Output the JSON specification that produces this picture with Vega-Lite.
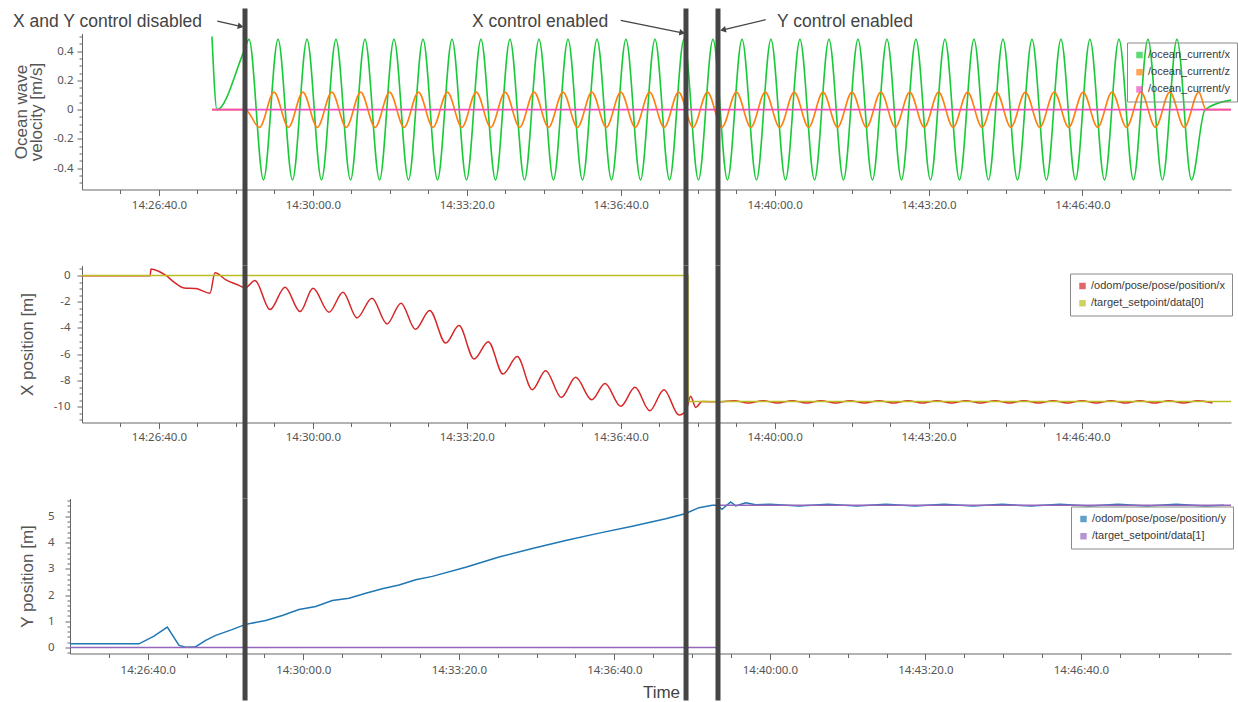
{
  "$schema": "https://vega.github.io/schema/vega-lite/v6.json",
  "background": "white",
  "padding": {"left": 12, "top": 5.5, "right": 5, "bottom": 5},
  "autosize": {"type": "pad"},
  "bounds": "flush",
  "spacing": 76,
  "resolve": {"scale": {"color": "independent"}, "legend": {"color": "independent"}},
  "config": {
    "view": {"stroke": null},
    "axis": {"labelFont": "Noto Sans", "labelFontSize": 11.5, "labelColor": "#555", "titleFont": "Liberation Sans", "titleFontSize": 17, "titleFontWeight": "normal", "titleColor": "#555", "domainColor": "#666", "tickColor": "#666", "grid": false, "labelOverlap": false, "labelBound": false, "labelFlush": false},
    "legend": {"orient": "none", "title": null, "strokeColor": "#8a8a8a", "padding": 7, "rowPadding": 5.2, "labelOffset": 3, "symbolSize": 42, "symbolType": "square", "symbolStrokeWidth": 0, "labelFont": "Liberation Sans", "labelFontSize": 11, "labelColor": "#3a3a3a"}
  },
  "datasets": {
    "ox": [
      {"t":52068.9,"v":0.5},{"t":52075.4,"v":0},{"t":52110.5,"v":0.4},
      {"t":52117.0,"v":0.48},{"t":52135.8,"v":-0.48},{"t":52154.7,"v":0.48},{"t":52173.5,"v":-0.48},
      {"t":52192.4,"v":0.48},{"t":52211.2,"v":-0.48},{"t":52230.0,"v":0.48},{"t":52248.9,"v":-0.48},
      {"t":52267.7,"v":0.48},{"t":52286.6,"v":-0.48},{"t":52305.4,"v":0.48},{"t":52324.2,"v":-0.48},
      {"t":52343.1,"v":0.48},{"t":52361.9,"v":-0.48},{"t":52380.8,"v":0.48},{"t":52399.6,"v":-0.48},
      {"t":52418.4,"v":0.48},{"t":52437.3,"v":-0.48},{"t":52456.1,"v":0.48},{"t":52475.0,"v":-0.48},
      {"t":52493.8,"v":0.48},{"t":52512.6,"v":-0.48},{"t":52531.5,"v":0.48},{"t":52550.3,"v":-0.48},
      {"t":52569.2,"v":0.48},{"t":52588.0,"v":-0.48},{"t":52606.8,"v":0.48},{"t":52625.7,"v":-0.48},
      {"t":52644.5,"v":0.48},{"t":52663.4,"v":-0.48},{"t":52682.2,"v":0.48},{"t":52701.0,"v":-0.48},
      {"t":52719.9,"v":0.48},{"t":52738.7,"v":-0.48},{"t":52757.6,"v":0.48},{"t":52776.4,"v":-0.48},
      {"t":52795.2,"v":0.48},{"t":52814.1,"v":-0.48},{"t":52832.9,"v":0.48},{"t":52851.8,"v":-0.48},
      {"t":52870.6,"v":0.48},{"t":52889.4,"v":-0.48},{"t":52908.3,"v":0.48},{"t":52927.1,"v":-0.48},
      {"t":52946.0,"v":0.48},{"t":52964.8,"v":-0.48},{"t":52983.6,"v":0.48},{"t":53002.5,"v":-0.48},
      {"t":53021.3,"v":0.48},{"t":53040.2,"v":-0.48},{"t":53059.0,"v":0.48},{"t":53077.8,"v":-0.48},
      {"t":53096.7,"v":0.48},{"t":53115.5,"v":-0.48},{"t":53134.4,"v":0.48},{"t":53153.2,"v":-0.48},
      {"t":53172.0,"v":0.48},{"t":53190.9,"v":-0.48},{"t":53209.7,"v":0.48},{"t":53228.6,"v":-0.48},
      {"t":53247.4,"v":0.48},{"t":53266.2,"v":-0.48},{"t":53285.1,"v":0.48},{"t":53303.9,"v":-0.48},
      {"t":53322.8,"v":0.48},{"t":53341.6,"v":-0.48},{"t":53359.2,"v":0},{"t":53393,"v":0.065}
    ],
    "oz": [
      {"t":52068.9,"v":0},{"t":52111.8,"v":0},
      {"t":52130.7,"v":-0.12},{"t":52149.5,"v":0.12},{"t":52168.3,"v":-0.12},{"t":52187.0,"v":0.12},
      {"t":52205.8,"v":-0.12},{"t":52224.6,"v":0.12},{"t":52243.4,"v":-0.12},{"t":52262.1,"v":0.12},
      {"t":52280.9,"v":-0.12},{"t":52299.7,"v":0.12},{"t":52318.5,"v":-0.12},{"t":52337.2,"v":0.12},
      {"t":52356.0,"v":-0.12},{"t":52374.8,"v":0.12},{"t":52393.6,"v":-0.12},{"t":52412.3,"v":0.12},
      {"t":52431.1,"v":-0.12},{"t":52449.9,"v":0.12},{"t":52468.7,"v":-0.12},{"t":52487.4,"v":0.12},
      {"t":52506.2,"v":-0.12},{"t":52525.0,"v":0.12},{"t":52543.8,"v":-0.12},{"t":52562.5,"v":0.12},
      {"t":52581.3,"v":-0.12},{"t":52600.1,"v":0.12},{"t":52618.9,"v":-0.12},{"t":52637.6,"v":0.12},
      {"t":52656.4,"v":-0.12},{"t":52675.2,"v":0.12},{"t":52694.0,"v":-0.12},{"t":52712.7,"v":0.12},
      {"t":52731.5,"v":-0.12},{"t":52750.3,"v":0.12},{"t":52769.1,"v":-0.12},{"t":52787.8,"v":0.12},
      {"t":52806.6,"v":-0.12},{"t":52825.4,"v":0.12},{"t":52844.2,"v":-0.12},{"t":52862.9,"v":0.12},
      {"t":52881.7,"v":-0.12},{"t":52900.5,"v":0.12},{"t":52919.3,"v":-0.12},{"t":52938.0,"v":0.12},
      {"t":52956.8,"v":-0.12},{"t":52975.6,"v":0.12},{"t":52994.4,"v":-0.12},{"t":53013.1,"v":0.12},
      {"t":53031.9,"v":-0.12},{"t":53050.7,"v":0.12},{"t":53069.5,"v":-0.12},{"t":53088.2,"v":0.12},
      {"t":53107.0,"v":-0.12},{"t":53125.8,"v":0.12},{"t":53144.6,"v":-0.12},{"t":53163.3,"v":0.12},
      {"t":53182.1,"v":-0.12},{"t":53200.9,"v":0.12},{"t":53219.7,"v":-0.12},{"t":53238.4,"v":0.12},
      {"t":53257.2,"v":-0.12},{"t":53276.0,"v":0.12},{"t":53294.8,"v":-0.12},{"t":53313.5,"v":0.12},
      {"t":53332.3,"v":-0.12},{"t":53351.1,"v":0.12},{"t":53360.5,"v":0},{"t":53393,"v":0}
    ],
    "oy": [{"t":52068.9,"v":0},{"t":53393,"v":0}],
    "rx": [
      {"t":51900,"v":-0.03},{"t":51988.4,"v":-0.03},{"t":51989.7,"v":0.5},{"t":51993.6,"v":0.45},
      {"t":52009.1,"v":0.0},{"t":52019.5,"v":-0.5},{"t":52032.5,"v":-0.95},{"t":52048.1,"v":-1.0},
      {"t":52066.3,"v":-1.35},{"t":52072.8,"v":0.2},{"t":52087.1,"v":-0.33},{"t":52104.0,"v":-0.75},
      {"t":52111.8,"v":-0.95},{"t":52124.8,"v":-0.38},{"t":52144.3,"v":-2.6},{"t":52163.8,"v":-0.89},
      {"t":52183.3,"v":-2.75},{"t":52200.2,"v":-0.97},{"t":52221.0,"v":-2.8},{"t":52239.1,"v":-1.27},
      {"t":52257.3,"v":-3.23},{"t":52276.8,"v":-1.73},{"t":52296.3,"v":-3.69},{"t":52314.5,"v":-2.11},
      {"t":52333.3,"v":-4.1},{"t":52351.8,"v":-2.67},{"t":52372.6,"v":-5.14},{"t":52389.9,"v":-3.82},
      {"t":52409.4,"v":-6.36},{"t":52428.0,"v":-5.04},{"t":52447.0,"v":-7.5},{"t":52465.6,"v":-6.18},
      {"t":52485.1,"v":-8.7},{"t":52502.5,"v":-7.25},{"t":52522.8,"v":-9.29},{"t":52541.5,"v":-7.76},
      {"t":52562.3,"v":-9.47},{"t":52579.6,"v":-8.22},{"t":52600.0,"v":-9.97},{"t":52618.6,"v":-8.52},
      {"t":52637.7,"v":-10.3},{"t":52656.2,"v":-8.7},{"t":52675.7,"v":-10.63},{"t":52684.8,"v":-10.3},
      {"t":52690.9,"v":-9.2},{"t":52697.4,"v":-10.05},{"t":52705.6,"v":-9.6},{"t":52727.7,"v":-9.62},
      {"t":52747.2,"v":-9.54},{"t":52766.0,"v":-9.72},{"t":52784.9,"v":-9.54},{"t":52803.7,"v":-9.72},
      {"t":52822.6,"v":-9.54},{"t":52841.4,"v":-9.72},{"t":52860.2,"v":-9.54},{"t":52879.1,"v":-9.72},
      {"t":52897.9,"v":-9.54},{"t":52916.8,"v":-9.72},{"t":52935.6,"v":-9.54},{"t":52954.4,"v":-9.72},
      {"t":52973.3,"v":-9.54},{"t":52992.1,"v":-9.72},{"t":53011.0,"v":-9.54},{"t":53029.8,"v":-9.72},
      {"t":53048.6,"v":-9.54},{"t":53067.5,"v":-9.72},{"t":53086.3,"v":-9.54},{"t":53105.2,"v":-9.72},
      {"t":53124.0,"v":-9.54},{"t":53142.8,"v":-9.72},{"t":53161.7,"v":-9.54},{"t":53180.5,"v":-9.72},
      {"t":53199.4,"v":-9.54},{"t":53218.2,"v":-9.72},{"t":53237.0,"v":-9.54},{"t":53255.9,"v":-9.72},
      {"t":53274.7,"v":-9.54},{"t":53293.6,"v":-9.72},{"t":53312.4,"v":-9.54},{"t":53331.2,"v":-9.72},
      {"t":53350.1,"v":-9.54},{"t":53368.9,"v":-9.72}
    ],
    "sx": [{"t":51900,"v":0},{"t":52687.4,"v":0},{"t":52687.5,"v":-9.6},{"t":53393,"v":-9.6}],
    "by": [
      {"t":51900,"v":0.14},{"t":51988.7,"v":0.14},{"t":52008.0,"v":0.43},{"t":52025.1,"v":0.78},
      {"t":52040.2,"v":0.08},{"t":52048.8,"v":0.01},{"t":52061.7,"v":0.03},{"t":52074.5,"v":0.27},
      {"t":52087.4,"v":0.46},{"t":52108.3,"v":0.68},{"t":52125.9,"v":0.88},{"t":52151.7,"v":1.03},
      {"t":52173.0,"v":1.22},{"t":52194.5,"v":1.45},{"t":52216.0,"v":1.56},{"t":52237.3,"v":1.79},
      {"t":52258.8,"v":1.88},{"t":52280.3,"v":2.07},{"t":52301.6,"v":2.24},{"t":52323.1,"v":2.38},
      {"t":52344.6,"v":2.58},{"t":52365.9,"v":2.71},{"t":52408.9,"v":3.06},{"t":52451.7,"v":3.45},
      {"t":52494.5,"v":3.77},{"t":52537.4,"v":4.08},{"t":52580.3,"v":4.36},{"t":52623.1,"v":4.62},
      {"t":52666.1,"v":4.91},{"t":52690.9,"v":5.1},{"t":52708.9,"v":5.33},{"t":52726.0,"v":5.42},
      {"t":52732.0,"v":5.42},{"t":52738.5,"v":5.27},{"t":52749.6,"v":5.55},{"t":52756.1,"v":5.4},
      {"t":52768.9,"v":5.52},{"t":52781.8,"v":5.44},{"t":52800.2,"v":5.46},{"t":52837.5,"v":5.39},
      {"t":52874.8,"v":5.46},{"t":52912.1,"v":5.39},{"t":52949.4,"v":5.46},{"t":52986.7,"v":5.39},
      {"t":53024.0,"v":5.46},{"t":53061.3,"v":5.39},{"t":53098.6,"v":5.46},{"t":53135.9,"v":5.39},
      {"t":53173.2,"v":5.46},{"t":53210.5,"v":5.39},{"t":53247.8,"v":5.46},{"t":53285.1,"v":5.39},
      {"t":53322.4,"v":5.46},{"t":53359.7,"v":5.39},{"t":53384,"v":5.42}
    ],
    "py": [{"t":51900,"v":0},{"t":52733.3,"v":0},{"t":52733.4,"v":5.42},{"t":53393,"v":5.42}]
  },
  "vconcat": [
    {
      "width": 1161, "height": 156,
      "encoding": {
        "x": {"field": "t", "type": "quantitative",
          "scale": {"domain": [51900, 53393], "range": [12, 1161], "nice": false, "zero": false},
          "axis": {"title": null, "values": [51950,52000,52050,52100,52150,52200,52250,52300,52350,52400,52450,52500,52550,52600,52650,52700,52750,52800,52850,52900,52950,53000,53050,53100,53150,53200,53250,53300,53350],
            "labelExpr": "datum.value % 200 == 0 ? utcFormat(datum.value * 1000, '%H:%M:%S') + '.0' : ''",
            "tickSize": {"condition": {"test": "datum.value % 200 == 0", "value": 6}, "value": 4}, "labelPadding": 4}},
        "y": {"field": "v", "type": "quantitative",
          "scale": {"domain": [-0.545, 0.52], "nice": false, "zero": false},
          "axis": {"title": ["Ocean wave", "velocity [m/s]"], "offset": -12,
            "values": [-0.5,-0.45,-0.4,-0.35,-0.3,-0.25,-0.2,-0.15,-0.1,-0.05,0,0.05,0.1,0.15,0.2,0.25,0.3,0.35,0.4,0.45,0.5],
            "labelExpr": "abs(datum.value*5 - round(datum.value*5)) < 0.001 ? '' + datum.value : ''",
            "tickSize": {"condition": {"test": "abs(datum.value*5 - round(datum.value*5)) < 0.001", "value": 5}, "value": 3},
            "labelPadding": 4, "titleX": -56, "titleBaseline": "alphabetic", "titleLineHeight": 15}}
      },
      "layer": [
        {"data": {"name": "ox"}, "mark": {"type": "line", "interpolate": "monotone", "strokeWidth": 1.6, "color": "#1ac938"}},
        {"data": {"name": "oz"}, "mark": {"type": "line", "interpolate": "monotone", "strokeWidth": 1.6, "color": "#ff7f0e"}},
        {"data": {"name": "oy"}, "mark": {"type": "line", "strokeWidth": 1.6, "color": "#f14cc1"}},
        {"data": {"values": []}, "mark": {"type": "square", "size": 42},
          "encoding": {"color": {"field": "s", "type": "nominal",
            "scale": {"domain": ["/ocean_current/x", "/ocean_current/z", "/ocean_current/y"], "range": ["#1ac938", "#ff7f0e", "#f14cc1"]},
            "legend": {"legendX": 1057, "legendY": 9}}}},
        {"data": {"values": [{"t": 52111.8, "from": 0.691, "to": -1.064}, {"t": 52684.8, "from": 0.691, "to": -1.064}, {"t": 52726.4, "from": 0.691, "to": -1.064}]},
          "mark": {"type": "rule", "color": "#454545", "strokeWidth": 5},
          "encoding": {"y": {"field": "from"}, "y2": {"field": "to"}}},
        {"data": {"values": [
            {"t": 52075.8, "v": 0.604, "t2": 52106.2, "v2": 0.568},
            {"t": 52600.0, "v": 0.609, "t2": 52680.0, "v2": 0.525},
            {"t": 52788.4, "v": 0.614, "t2": 52732.9, "v2": 0.545}]},
          "mark": {"type": "rule", "color": "#444", "strokeWidth": 1.3},
          "encoding": {"x2": {"field": "t2"}, "y2": {"field": "v2"}}},
        {"data": {"values": [{"t": 52106.2, "v": 0.568}]},
          "mark": {"type": "point", "shape": "triangle-right", "filled": true, "size": 45, "angle": 12.8, "color": "#444", "opacity": 1}},
        {"data": {"values": [{"t": 52680.0, "v": 0.525}]},
          "mark": {"type": "point", "shape": "triangle-right", "filled": true, "size": 45, "angle": 11.3, "color": "#444", "opacity": 1}},
        {"data": {"values": [{"t": 52732.9, "v": 0.545}]},
          "mark": {"type": "point", "shape": "triangle-right", "filled": true, "size": 45, "angle": 166.8, "color": "#444", "opacity": 1}},
        {"data": {"values": [
            {"t": 51810.3, "v": 0.561, "label": "X and Y control disabled"},
            {"t": 52406.8, "v": 0.561, "label": "X control enabled"},
            {"t": 52803.1, "v": 0.561, "label": "Y control enabled"}]},
          "mark": {"type": "text", "align": "left", "baseline": "alphabetic", "font": "Liberation Sans", "fontSize": 17.5, "color": "#444"},
          "encoding": {"text": {"field": "label"}}}
      ]
    },
    {
      "width": 1161, "height": 157,
      "encoding": {
        "x": {"field": "t", "type": "quantitative",
          "scale": {"domain": [51900, 53393], "range": [12, 1161], "nice": false, "zero": false},
          "axis": {"title": null, "values": [51950,52000,52050,52100,52150,52200,52250,52300,52350,52400,52450,52500,52550,52600,52650,52700,52750,52800,52850,52900,52950,53000,53050,53100,53150,53200,53250,53300,53350],
            "labelExpr": "datum.value % 200 == 0 ? utcFormat(datum.value * 1000, '%H:%M:%S') + '.0' : ''",
            "tickSize": {"condition": {"test": "datum.value % 200 == 0", "value": 6}, "value": 4}, "labelPadding": 3}},
        "y": {"field": "v", "type": "quantitative",
          "scale": {"domain": [-11.2, 0.76], "nice": false, "zero": false},
          "axis": {"title": "X position [m]", "offset": -12,
            "values": [-11,-10.5,-10,-9.5,-9,-8.5,-8,-7.5,-7,-6.5,-6,-5.5,-5,-4.5,-4,-3.5,-3,-2.5,-2,-1.5,-1,-0.5,0,0.5],
            "labelExpr": "datum.value % 2 == 0 ? '' + datum.value : ''",
            "tickSize": {"condition": {"test": "datum.value % 2 == 0", "value": 5}, "value": 3},
            "labelPadding": 7, "titleX": -50, "titleBaseline": "alphabetic"}}
      },
      "layer": [
        {"data": {"name": "rx"}, "mark": {"type": "line", "interpolate": "monotone", "strokeWidth": 1.5, "color": "#d62728"}},
        {"data": {"name": "sx"}, "mark": {"type": "line", "strokeWidth": 1.5, "color": "#bcbd22"}},
        {"data": {"values": []}, "mark": {"type": "square", "size": 42},
          "encoding": {"color": {"field": "s", "type": "nominal",
            "scale": {"domain": ["/odom/pose/pose/position/x", "/target_setpoint/data[0]"], "range": ["#d62728", "#bcbd22"]},
            "legend": {"legendX": 1000, "legendY": 8}}}},
        {"data": {"values": [{"t": 52111.8, "from": 0.76, "to": -16.99}, {"t": 52684.8, "from": 0.76, "to": -16.99}, {"t": 52726.4, "from": 0.76, "to": -16.99}]},
          "mark": {"type": "rule", "color": "#454545", "strokeWidth": 5},
          "encoding": {"y": {"field": "from"}, "y2": {"field": "to"}}}
      ]
    },
    {
      "width": 1161, "height": 155,
      "encoding": {
        "x": {"field": "t", "type": "quantitative",
          "scale": {"domain": [51900, 53393], "nice": false, "zero": false},
          "axis": {"title": "Time", "titleX": 591, "titleY": 44, "titleBaseline": "alphabetic", "titleAlign": "center", "titleColor": "#444",
            "values": [51950,52000,52050,52100,52150,52200,52250,52300,52350,52400,52450,52500,52550,52600,52650,52700,52750,52800,52850,52900,52950,53000,53050,53100,53150,53200,53250,53300,53350],
            "labelExpr": "datum.value % 200 == 0 ? utcFormat(datum.value * 1000, '%H:%M:%S') + '.0' : ''",
            "tickSize": {"condition": {"test": "datum.value % 200 == 0", "value": 6}, "value": 4}, "labelPadding": 5}},
        "y": {"field": "v", "type": "quantitative",
          "scale": {"domain": [-0.23, 5.68], "nice": false, "zero": false},
          "axis": {"title": "Y position [m]",
            "values": [-0.2,0,0.2,0.4,0.6,0.8,1,1.2,1.4,1.6,1.8,2,2.2,2.4,2.6,2.8,3,3.2,3.4,3.6,3.8,4,4.2,4.4,4.6,4.8,5,5.2,5.4,5.6],
            "labelExpr": "abs(datum.value - round(datum.value)) < 0.001 ? '' + datum.value : ''",
            "tickSize": {"condition": {"test": "abs(datum.value - round(datum.value)) < 0.001", "value": 5}, "value": 3},
            "labelPadding": 11, "titleX": -37.6, "titleBaseline": "alphabetic"}}
      },
      "layer": [
        {"data": {"name": "by"}, "mark": {"type": "line", "strokeWidth": 1.5, "color": "#1f77b4"}},
        {"data": {"name": "py"}, "mark": {"type": "line", "strokeWidth": 1.5, "color": "#9467bd"}},
        {"data": {"values": []}, "mark": {"type": "square", "size": 42},
          "encoding": {"color": {"field": "s", "type": "nominal",
            "scale": {"domain": ["/odom/pose/pose/position/y", "/target_setpoint/data[1]"], "range": ["#1f77b4", "#9467bd"]},
            "legend": {"legendX": 1001, "legendY": 8}}}},
        {"data": {"values": [{"t": 52125.1, "from": 5.68, "to": -2.02}, {"t": 52692.2, "from": 5.68, "to": -2.02}, {"t": 52733.3, "from": 5.68, "to": -2.02}]},
          "mark": {"type": "rule", "color": "#454545", "strokeWidth": 5},
          "encoding": {"y": {"field": "from"}, "y2": {"field": "to"}}}
      ]
    }
  ]
}
